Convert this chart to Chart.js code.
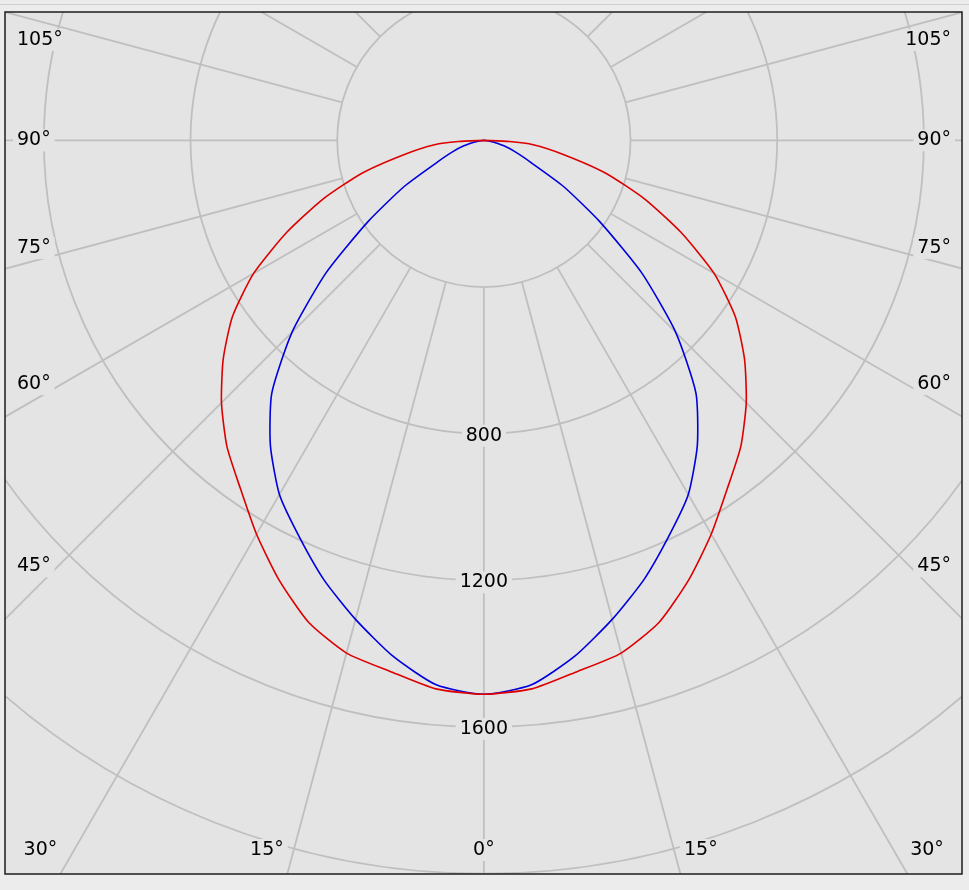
<!DOCTYPE html>
<html lang="en">

<head>
  <meta charset="UTF-8">
  <title>Luminous intensity diagram</title>
  <script src="https://cdn.jsdelivr.net/npm/chart.js"></script>
  <style>
    body {
      margin: 0;
      background: #ececec;
    }
  </style>
</head>

<body>
  <canvas id="polarChart" width="969" height="890"></canvas>

  <script>
    // angles in degrees from nadir (0 = straight down), intensities in cd
    const angles = [0, 5, 10, 15, 20, 25, 30, 35, 40, 45, 50, 55, 60, 65, 70, 75, 80, 85, 87.5, 90];
    const redIntensity = [1510, 1501, 1470, 1447, 1398, 1322, 1240, 1158, 1090, 1012, 928, 837, 725, 593, 466, 343, 220, 135, 70, 0];
    const blueIntensity = [1510, 1490, 1428, 1352, 1275, 1192, 1115, 1015, 900, 740, 562, 385, 250, 140, 90, 55, 25, 10, 4, 0];

    const ringValues = [400, 800, 1200, 1600, 2000, 2400];
    const ringLabels = ['800', '1200', '1600'];
    const rayStep = 15;
    const sideAngles = [105, 90, 75, 60, 45];
    const bottomAngles = [30, 15, 0];

    const BG = '#e4e4e4';
    const GRID = '#bfbfbf';
    const FONT = '19px "DejaVu Sans", Verdana, sans-serif';

    // polar (mirrored both sides) -> cartesian points
    const toPoints = (vals) => {
      const pts = [];
      for (let i = angles.length - 1; i >= 0; i--) {
        const a = -angles[i] * Math.PI / 180;
        pts.push({ x: vals[i] * Math.sin(a), y: -vals[i] * Math.cos(a) });
      }
      for (let i = 1; i < angles.length; i++) {
        const a = angles[i] * Math.PI / 180;
        pts.push({ x: vals[i] * Math.sin(a), y: -vals[i] * Math.cos(a) });
      }
      return pts;
    };

    const labelBox = (ctx, text, x, y, align) => {
      const w = ctx.measureText(text).width;
      let left = x - w / 2;
      if (align === 'left') left = x;
      if (align === 'right') left = x - w;
      ctx.fillStyle = BG;
      ctx.fillRect(left - 4, y - 11, w + 8, 22);
      ctx.fillStyle = '#000';
      ctx.textAlign = align;
      ctx.fillText(text, x, y);
    };

    const polarGrid = {
      id: 'polarGrid',
      beforeDraw(chart) {
        const { ctx, chartArea: ca } = chart;
        ctx.save();
        ctx.fillStyle = '#ececec';
        ctx.fillRect(0, 0, chart.width, chart.height);
        ctx.strokeStyle = '#cfcfcf';
        ctx.lineWidth = 1;
        ctx.beginPath();
        ctx.moveTo(0, 4.5);
        ctx.lineTo(chart.width, 4.5);
        ctx.stroke();
        ctx.fillStyle = BG;
        ctx.fillRect(ca.left, ca.top, ca.right - ca.left, ca.bottom - ca.top);
        ctx.restore();
      },
      beforeDatasetsDraw(chart) {
        const { ctx, chartArea: ca, scales } = chart;
        const cx = scales.x.getPixelForValue(0);
        const cy = scales.y.getPixelForValue(0);
        const rad = (v) => scales.x.getPixelForValue(v) - cx;
        ctx.save();
        ctx.beginPath();
        ctx.rect(ca.left, ca.top, ca.right - ca.left, ca.bottom - ca.top);
        ctx.clip();
        ctx.strokeStyle = GRID;
        ctx.lineWidth = 1.8;
        ringValues.forEach((v) => {
          ctx.beginPath();
          ctx.arc(cx, cy, rad(v), 0, Math.PI * 2);
          ctx.stroke();
        });
        const r0 = rad(ringValues[0]);
        const r1 = rad(ringValues[ringValues.length - 1]) * 1.2;
        for (let a = -180; a < 180; a += rayStep) {
          const t = a * Math.PI / 180;
          const sx = Math.sin(t), sy = Math.cos(t);
          ctx.beginPath();
          ctx.moveTo(cx + r0 * sx, cy + r0 * sy);
          ctx.lineTo(cx + r1 * sx, cy + r1 * sy);
          ctx.stroke();
        }

        ctx.font = FONT;
        ctx.textBaseline = 'middle';
        ringLabels.forEach((t) => {
          labelBox(ctx, t, cx, cy + rad(Number(t)) + 2, 'center');
        });

        // angle labels along the frame
        const dx = cx - (ca.left + 30);
        sideAngles.forEach((a) => {
          const t = (a === 90 ? a : a + 1.5) * Math.PI / 180;
          let y = cy + dx / Math.tan(t);
          y = Math.max(ca.top + 28, y);
          labelBox(ctx, a + '°', ca.left + 12, y, 'left');
          labelBox(ctx, a + '°', ca.right - 11, y, 'right');
        });
        const by = ca.bottom - 24;
        bottomAngles.forEach((a) => {
          const t = (a === 0 ? 0 : a + 2) * Math.PI / 180;
          const off = (by - cy) * Math.tan(t);
          const lx = Math.max(ca.left + 35, cx - off);
          const rx = Math.min(ca.right - 35, cx + off);
          labelBox(ctx, a + '°', lx, by, 'center');
          if (a !== 0) labelBox(ctx, a + '°', rx, by, 'center');
        });
        ctx.restore();
      },
      afterDraw(chart) {
        const { ctx, chartArea: ca } = chart;
        ctx.save();
        ctx.strokeStyle = '#1c1c1c';
        ctx.lineWidth = 1.5;
        ctx.strokeRect(ca.left, ca.top, ca.right - ca.left, ca.bottom - ca.top);
        ctx.restore();
      }
    };

    new Chart(document.getElementById('polarChart').getContext('2d'), {
      type: 'scatter',
      data: {
        datasets: [
          {
            label: 'C0-C180',
            data: toPoints(redIntensity),
            showLine: true,
            borderColor: '#dd0000',
            borderWidth: 1.6,
            pointRadius: 0,
            tension: 0.2,
          },
          {
            label: 'C90-C270',
            data: toPoints(blueIntensity),
            showLine: true,
            borderColor: '#0000dd',
            borderWidth: 1.6,
            pointRadius: 0,
            tension: 0.2,
          },
        ],
      },
      options: {
        responsive: false,
        animation: false,
        layout: { padding: { left: 5, top: 12, right: 7, bottom: 16 } },
        plugins: { legend: { display: false }, tooltip: { enabled: false } },
        scales: {
          x: { type: 'linear', display: false, min: -1306, max: 1304 },
          y: { type: 'linear', display: false, min: -2000, max: 350 },
        },
      },
      plugins: [polarGrid],
    });
  </script>
</body>

</html>
